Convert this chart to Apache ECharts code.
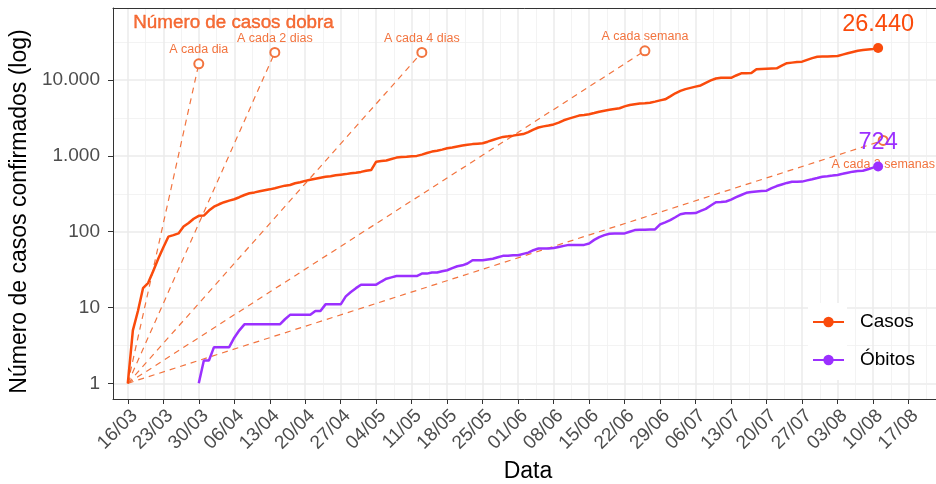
<!DOCTYPE html>
<html><head><meta charset="utf-8">
<script src="https://cdn.jsdelivr.net/npm/echarts@6/dist/echarts.min.js"></script>
<style>html,body{margin:0;padding:0;background:#fff;overflow:hidden}#c{width:936px;height:484px}</style>
</head><body><div id="c"></div>
<script>
// ---- data ----
const startDate = [2020, 2, 16];            // 16/03/2020 = day 0
// confirmed cases, one value per day from 16/03 (day 0) to 11/08 (day 148)
const casos = [
  1,5,9,18,21,30,44,62,86,90,
  95,117,130,148,162,163,190,214,230,245,
  257,268,285,305,322,330,342,352,362,375,
  390,405,413,435,450,468,485,500,515,530,
  540,555,565,575,590,600,615,635,650,840,
  855,870,910,950,965,975,990,1000,1040,1090,
  1140,1170,1210,1260,1290,1330,1370,1400,1430,1450,
  1470,1540,1620,1700,1780,1810,1850,1900,1940,2060,
  2220,2370,2450,2520,2600,2750,2950,3100,3250,3400,
  3470,3550,3680,3830,3950,4050,4150,4250,4500,4690,
  4800,4900,4950,5030,5200,5400,5580,6100,6700,7200,
  7600,7900,8200,8500,9200,9900,10500,10700,10700,10700,
  11500,12300,12300,12400,13900,14000,14100,14200,14300,15500,
  16700,17000,17300,17500,18500,19500,20300,20400,20500,20700,
  20800,21700,22600,23500,24400,24900,25400,25800,26440
];
// deaths, one value per day from 30/03 (day 14) to 11/08 (day 148)
const obitosStartDay = 14;
const obitos = [
  1,2,2,3,3,3,3,4,5,6,
  6,6,6,6,6,6,6,7,8,8,
  8,8,8,9,9,11,11,11,11,14,
  16,18,20,20,20,20,22,24,25,26,
  26,26,26,26,28,28,29,29,30,31,
  33,35,36,38,42,42,42,43,44,46,
  48,48,49,49,51,53,57,60,60,60,
  61,63,65,67,67,67,67,70,78,85,
  90,94,95,95,95,100,105,106,106,107,
  107,125,133,142,155,170,175,175,176,188,
  200,222,245,247,250,265,285,305,326,333,
  340,345,348,375,400,420,440,456,456,458,
  475,492,510,531,540,550,561,580,600,620,
  630,638,665,700,724
];
// x ticks: every week from 16/03 to 17/08 (days from start)
const xTickDays = [0,7,14,21,28,35,42,49,56,63,70,77,84,91,98,105,112,119,126,133,140,147,154];
const xMinorDays = [3.5,10.5,17.5,24.5,31.5,38.5,45.5,52.5,59.5,66.5,73.5,80.5,87.5,94.5,101.5,108.5,115.5,122.5,129.5,136.5,143.5,150.5,157.5];
const yTickValues = [1,10,100,1000,10000];
const yMinorValues = [3.1623,31.623,316.23,3162.3,31623];
// doubling reference lines
const doublingLabels = ['A cada dia','A cada 2 dias','A cada 4 dias','A cada semana','A cada 2 semanas'];
const doublingPeriods = [1,2,4,7,14];      // days per doubling
const doublingEndDays = [14,29,58,102,149];

// ---- helpers ----
const lg = Math.log10;
const DAY = 86400000;
const t0 = Date.UTC(startDate[0], startDate[1], startDate[2]);
const pad = n => (n < 10 ? '0' : '') + n;
const fmtDate = d => { const dt = new Date(t0 + Math.round(d) * DAY); return pad(dt.getUTCDate()) + '/' + pad(dt.getUTCMonth() + 1); };
const fmtNum = n => String(n).replace(/\B(?=(\d{3})+(?!\d))/g, '.');

const FONT = '"Liberation Sans", Arial, Helvetica, sans-serif';
const C_CASOS = '#FA4B0C';
const C_OBITOS = '#9B30FF';
const C_REF = '#F2743F';

const xMin = -2.92, xMax = 160.8;
const yMin = -0.207, yMax = 4.951;

function mainSeries(name, values, start, color) {
  const data = values.map((v, i) => [start + i, lg(v)]);
  const lastI = data.length - 1;
  data[lastI] = {
    value: data[lastI], symbolSize: 10,
    label: { show: true, position: 'inside', offset: [0, -24], formatter: fmtNum(values[lastI]),
             fontSize: 23.5, color: color, fontFamily: FONT }
  };
  return {
    type: 'line', name, data, z: 4,
    symbol: 'circle', symbolSize: 0, showSymbol: true,
    itemStyle: { color }, lineStyle: { color, width: 2.5 },
    silent: true, animation: false
  };
}

const refSeries = doublingPeriods.map((p, k) => {
  const endD = doublingEndDays[k];
  const below = k === doublingPeriods.length - 1;
  return {
    type: 'line', name: doublingLabels[k], z: 2, silent: true, animation: false,
    symbol: 'emptyCircle', symbolSize: 0, showSymbol: true,
    itemStyle: { color: C_REF, borderWidth: 1.3 },
    lineStyle: { color: C_REF, width: 1.2, type: [6, 5] },
    data: [
      [0, lg(1)],
      { value: [endD, lg(Math.pow(2, endD / p))], symbolSize: 9,
        label: { show: true, position: 'inside', offset: [0, below ? 24 : -14],
                 formatter: doublingLabels[k], fontSize: 12.5, color: C_REF, fontFamily: FONT } }
    ]
  };
});

const titleSeries = {
  type: 'scatter', name: 'titulo', silent: true, animation: false, z: 3,
  symbolSize: 0,
  data: [{ value: [20.85, 4.75],
    label: { show: true, position: 'inside', formatter: 'Número de casos dobra',
             fontSize: 18.8, color: '#F24A08', fontFamily: FONT,
             textBorderColor: '#F24A08', textBorderWidth: 0.4 } }]
};

const chart = echarts.init(document.getElementById('c'), null, { renderer: 'canvas' });
chart.setOption({
  animation: false,
  backgroundColor: '#ffffff',
  textStyle: { fontFamily: FONT },
  grid: { left: 113, width: 830, top: 8, height: 391, containLabel: false, outerBoundsMode: 'none' },
  xAxis: [{
    type: 'value', min: xMin, max: xMax, position: 'bottom',
    axisLine: { show: true, onZero: false, lineStyle: { color: '#333333', width: 1 } },
    axisTick: { show: true, length: 5, lineStyle: { color: '#333333', width: 1 }, customValues: xTickDays },
    axisLabel: { customValues: xTickDays, formatter: v => fmtDate(v), rotate: 45, margin: 7,
                 align: 'right', verticalAlign: 'top',
                 fontSize: 19, color: '#4d4d4d', fontFamily: FONT },
    splitLine: { show: true, lineStyle: { color: '#EBEBEB', width: 1.5 } },
    name: 'Data', nameLocation: 'middle', nameGap: 61,
    nameTextStyle: { fontSize: 23, color: '#000', fontFamily: FONT }
  }, {
    type: 'value', min: xMin, max: xMax, position: 'top',
    axisLine: { show: true, onZero: false, lineStyle: { color: '#333333', width: 1 } },
    axisTick: { show: false, customValues: xMinorDays },
    axisLabel: { show: false, customValues: xMinorDays },
    splitLine: { show: true, lineStyle: { color: '#F0F0F0', width: 0.8 } }
  }],
  yAxis: [{
    type: 'value', min: yMin, max: yMax, position: 'left',
    axisLine: { show: true, onZero: false, lineStyle: { color: '#333333', width: 1 } },
    axisTick: { show: true, length: 5, lineStyle: { color: '#333333', width: 1 }, customValues: yTickValues.map(lg) },
    axisLabel: { customValues: yTickValues.map(lg), formatter: v => fmtNum(Math.round(Math.pow(10, v))),
                 margin: 13, fontSize: 19, color: '#4d4d4d', fontFamily: FONT },
    splitLine: { show: true, lineStyle: { color: '#EBEBEB', width: 1.5 } },
    name: 'Número de casos confirmados (log)', nameLocation: 'middle', nameGap: 76,
    nameTextStyle: { fontSize: 23, color: '#000', fontFamily: FONT, padding: [0, 16, 0, 0] }
  }, {
    type: 'value', min: yMin, max: yMax, position: 'right',
    axisLine: { show: true, onZero: false, lineStyle: { color: '#333333', width: 1 } },
    axisTick: { show: false, customValues: yMinorValues.map(lg) },
    axisLabel: { show: false, customValues: yMinorValues.map(lg) },
    splitLine: { show: true, lineStyle: { color: '#F0F0F0', width: 0.8 } }
  }],
  legend: {
    data: ['Casos', 'Óbitos'], orient: 'vertical', left: 807, top: 307,
    itemWidth: 31, itemHeight: 13, itemGap: 18, selectedMode: false,
    textStyle: { fontSize: 19, color: '#000', fontFamily: FONT, lineHeight: 20, padding: [0, 0, 0, 11] }
  },
  graphic: [{ type: 'rect', z: 1, silent: true, shape: { x: 808, y: 303, width: 39, height: 77 }, style: { fill: '#ffffff' } }],
  series: [
    ...refSeries,
    titleSeries,
    mainSeries('Casos', casos, 0, C_CASOS),
    mainSeries('Óbitos', obitos, obitosStartDay, C_OBITOS)
  ]
});
</script>
</body></html>
